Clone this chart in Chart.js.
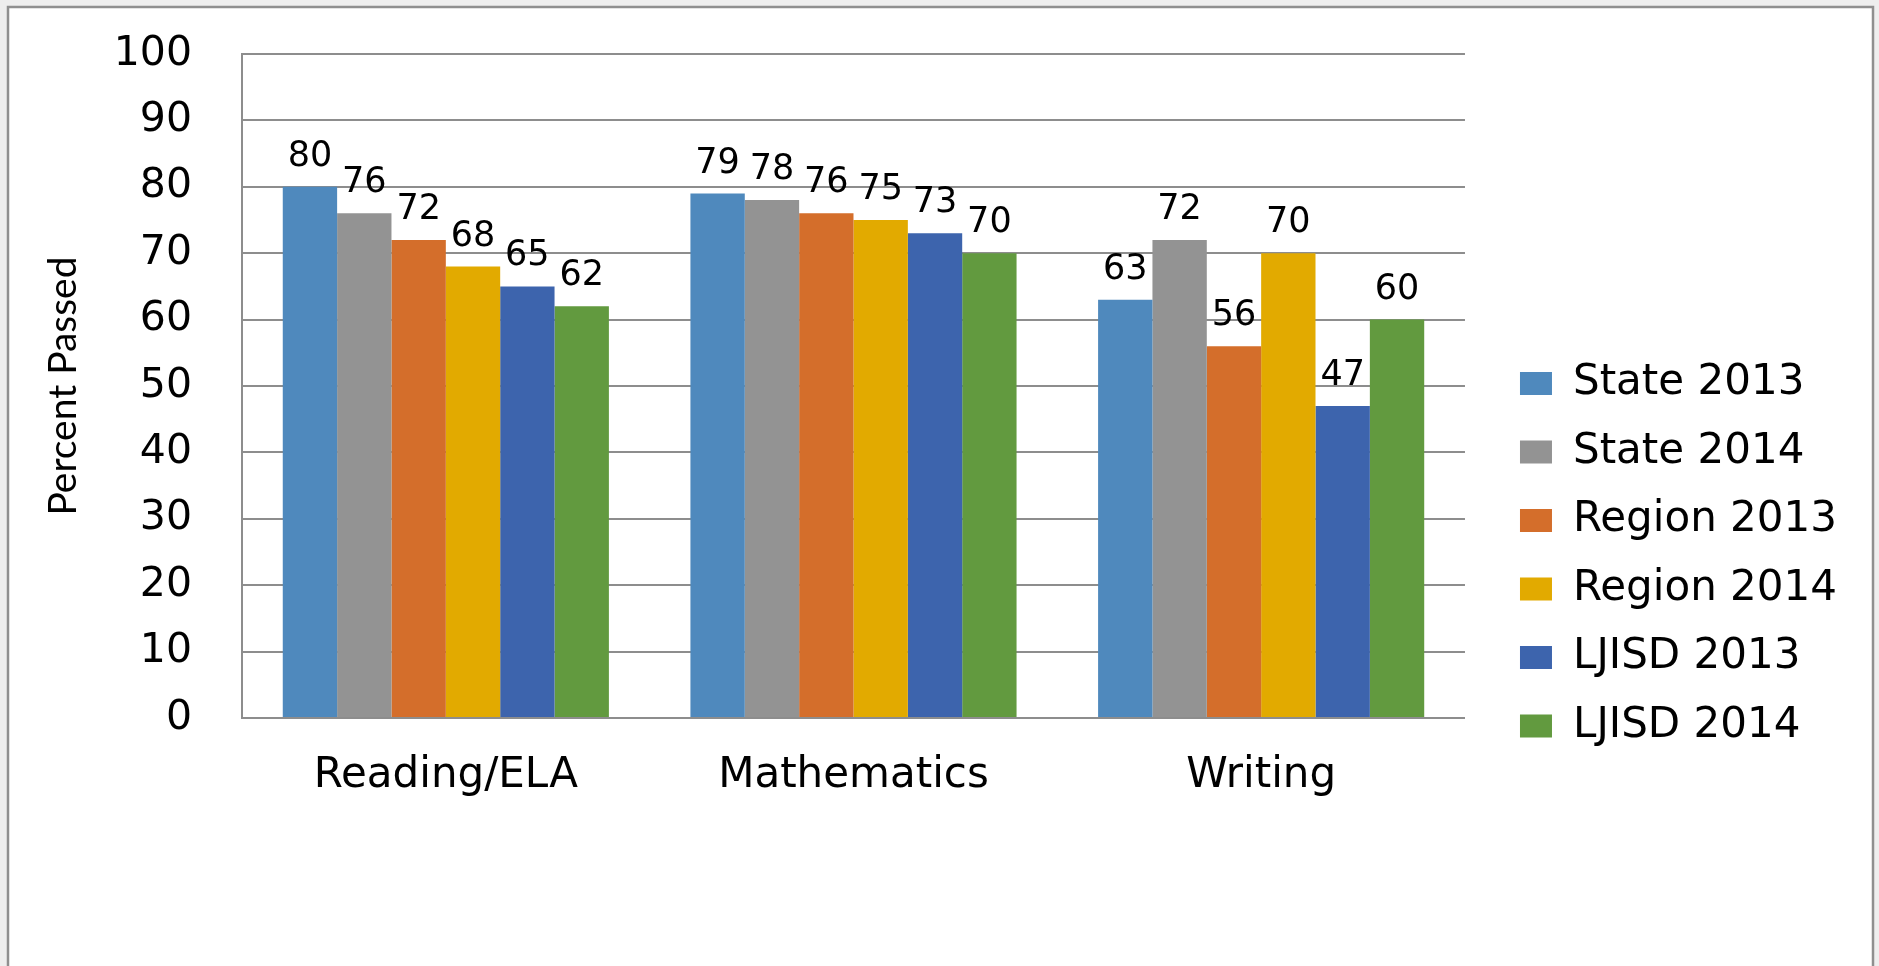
<!DOCTYPE html>
<html>
<head>
<meta charset="utf-8">
<script src="https://cdn.jsdelivr.net/npm/chart.js@4/dist/chart.umd.min.js"></script>
<style>
  html, body { margin: 0; padding: 0; background: #eeeeee; }
  #wrap { position: relative; width: 1879px; height: 966px; }
</style>
</head>
<body>
<div id="wrap"><canvas id="c"></canvas></div>
<script>
// ---- data ----
const categories = ["Reading/ELA", "Mathematics", "Writing"];
const seriesNames = ["State 2013", "State 2014", "Region 2013", "Region 2014", "LJISD 2013", "LJISD 2014"];
const state2013  = [80, 79, 63];
const state2014  = [76, 78, 72];
const region2013 = [72, 76, 56];
const region2014 = [68, 75, 70];
const ljisd2013  = [65, 73, 47];
const ljisd2014  = [62, 70, 60];
const yTicks = [0, 10, 20, 30, 40, 50, 60, 70, 80, 90, 100];
const yTitle = "Percent Passed";

const seriesValues = [state2013, state2014, region2013, region2014, ljisd2013, ljisd2014];
const seriesColors = ["#4F89BD", "#939393", "#D46E2B", "#E2AA00", "#3D64AD", "#629A3F"];

const gridColor = "#8d8d8d";

const framePlugin = {
  id: "frame",
  beforeDraw(chart) {
    const ctx = chart.ctx;
    ctx.save();
    ctx.fillStyle = "#eeeeee";
    ctx.fillRect(0, 0, chart.width, chart.height);
    ctx.fillStyle = "#ffffff";
    ctx.fillRect(8, 7, 1865, 980);
    ctx.strokeStyle = "#8f8f8f";
    ctx.lineWidth = 2.5;
    ctx.strokeRect(8, 7, 1865, 980);
    ctx.restore();
  }
};

// let the right-hand legend be as wide as its labels need
const legendWidthPlugin = {
  id: "legendWidth",
  beforeLayout(chart) {
    const lg = chart.legend;
    if (lg && !lg._wideOK) {
      const orig = lg.update.bind(lg);
      lg.update = (maxW, maxH, margins) => orig(Math.max(maxW, 460), maxH, margins);
      lg._wideOK = true;
    }
  }
};

const valueLabelPlugin = {
  id: "valueLabels",
  afterDatasetsDraw(chart) {
    const ctx = chart.ctx;
    ctx.save();
    ctx.fillStyle = "#000";
    ctx.font = "35px 'DejaVu Sans'";
    ctx.textAlign = "center";
    ctx.textBaseline = "middle";
    chart.data.datasets.forEach((ds, di) => {
      const meta = chart.getDatasetMeta(di);
      meta.data.forEach((bar, i) => {
        ctx.fillText(String(ds.data[i]), bar.x, bar.y - 30);
      });
    });
    ctx.restore();
  }
};

new Chart(document.getElementById("c"), {
  type: "bar",
  data: {
    labels: categories,
    datasets: seriesNames.map((name, i) => ({
      label: name,
      data: seriesValues[i],
      backgroundColor: seriesColors[i],
      borderWidth: 0,
      categoryPercentage: 0.8,
      barPercentage: 1.0
    }))
  },
  options: {
    responsive: true,
    maintainAspectRatio: false,
    animation: false,
    events: [],
    layout: { padding: { top: 54, left: 20, right: 32, bottom: 166 } },
    plugins: {
      tooltip: { enabled: false },
      legend: {
        position: "right",
        align: "start",
        title: { display: true, text: " ", font: { size: 10 }, padding: 135 },
        labels: {
          boxWidth: 32,
          boxHeight: 23,
          padding: 26.5,
          color: "#000",
          font: { family: "'DejaVu Sans'", size: 42 }
        }
      }
    },
    scales: {
      x: {
        grid: { display: false, drawTicks: false },
        border: { display: true, color: gridColor, width: 2 },
        afterFit: (s) => { s.height = 82; },
        ticks: {
          color: "#000",
          padding: 33,
          maxRotation: 0,
          autoSkip: false,
          font: { family: "'DejaVu Sans'", size: 42 }
        }
      },
      y: {
        min: 0,
        max: 100,
        afterBuildTicks: (s) => { s.ticks = yTicks.map(v => ({ value: v })); },
        afterFit: (s) => { s.width = 222; s.paddingTop = 24; s.paddingBottom = 24; },
        grid: { color: gridColor, lineWidth: 2, drawTicks: false },
        border: { display: true, color: gridColor, width: 2 },
        ticks: {
          color: "#000",
          padding: 50,
          font: { family: "'DejaVu Sans'", size: 41 }
        },
        title: {
          display: true,
          text: yTitle,
          color: "#000",
          font: { family: "Lato", size: 39 },
          padding: { top: 20, bottom: 0 }
        }
      },
      y2: {
        type: "linear",
        position: "right",
        display: true,
        grid: { display: false, drawTicks: false },
        border: { display: false },
        ticks: { display: false },
        afterFit: (s) => { s.width = 28.5; }
      }
    }
  },
  plugins: [framePlugin, legendWidthPlugin, valueLabelPlugin]
});
</script>
</body>
</html>
